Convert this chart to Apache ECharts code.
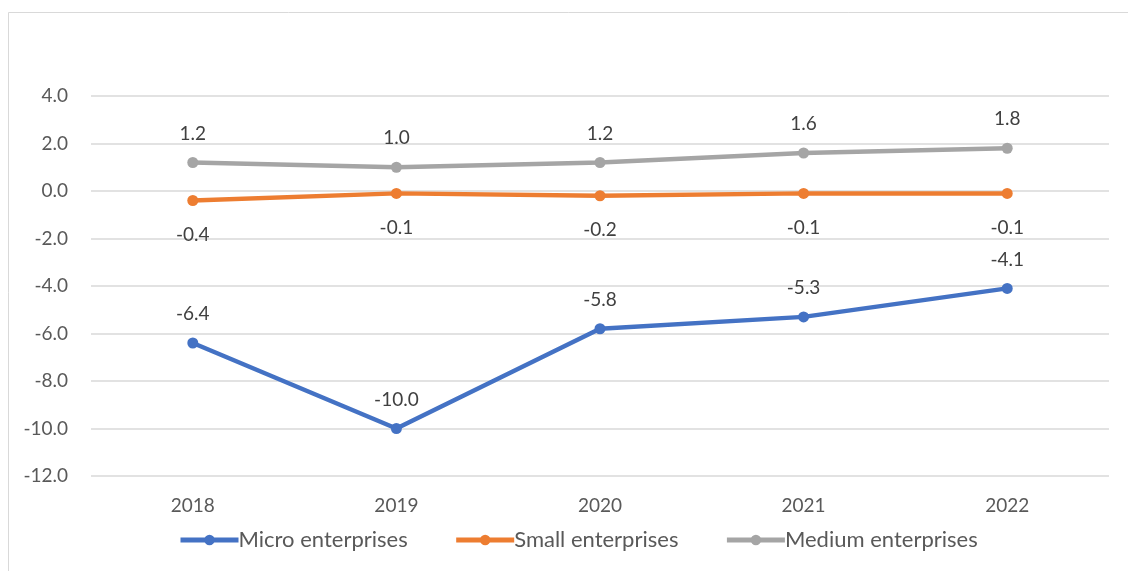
<!DOCTYPE html>
<html>
<head>
<meta charset="utf-8">
<script src="https://cdn.jsdelivr.net/npm/echarts@6/dist/echarts.min.js"></script>
<style>
html,body{margin:0;padding:0;background:#fff;}
#chart{width:1128px;height:571px;}
</style>
</head>
<body>
<div id="chart"></div>
<script>
// Year categories and per-segment values
const years = ['2018', '2019', '2020', '2021', '2022'];
const micro = [-6.4, -10.0, -5.8, -5.3, -4.1];
const small = [-0.4, -0.1, -0.2, -0.1, -0.1];
const medium = [1.2, 1.0, 1.2, 1.6, 1.8];
const seriesNames = ['Micro enterprises', 'Small enterprises', 'Medium enterprises'];

const FONT = 'Lato, "Open Sans", sans-serif';
const TEXT = '#404040';

function lineSeries(name, data, color, labelPos, dist) {
  return {
    name: name,
    type: 'line',
    data: data,
    symbol: 'circle',
    symbolSize: 11,
    lineStyle: { color: color, width: 4.5 },
    itemStyle: { color: color },
    label: {
      show: true,
      position: labelPos,
      distance: dist,
      color: TEXT,
      fontSize: 19,
      fontFamily: FONT,
      formatter: p => p.value.toFixed(1)
    },
    z: 3
  };
}

const chart = echarts.init(document.getElementById('chart'), null, { renderer: 'canvas' });
chart.setOption({
  backgroundColor: '#fff',
  animation: false,
  graphic: [{
    type: 'rect',
    shape: { x: 8.5, y: 12.5, width: 1200, height: 700 },
    style: { fill: 'none', stroke: '#d9d9d9', lineWidth: 1 },
    silent: true
  }],
  grid: { left: 91, right: 19, top: 96, bottom: 95 },
  legend: {
    bottom: 15,
    left: 173,
    itemWidth: 58,
    itemHeight: 13,
    itemGap: 46,
    lineStyle: { width: 5 },
    textStyle: { color: '#595959', fontSize: 22, fontFamily: FONT, padding: [0, 0, 0, -5] },
    data: seriesNames
  },
  xAxis: {
    type: 'category',
    data: years,
    boundaryGap: true,
    axisLine: { show: false },
    axisTick: { show: false },
    axisLabel: { color: '#595959', fontSize: 19, fontFamily: FONT, margin: 20 }
  },
  yAxis: {
    type: 'value',
    min: -12,
    max: 4,
    interval: 2,
    axisLine: { show: false },
    axisTick: { show: false },
    splitLine: { lineStyle: { color: '#d9d9d9', width: 1.5 } },
    axisLabel: {
      color: '#595959', fontSize: 19, fontFamily: FONT, margin: 23,
      formatter: v => v.toFixed(1)
    }
  },
  series: [
    lineSeries(seriesNames[0], micro, '#4472C4', 'top', 14),
    lineSeries(seriesNames[1], small, '#ED7D31', 'bottom', 19),
    lineSeries(seriesNames[2], medium, '#A5A5A5', 'top', 14)
  ]
});
</script>
</body>
</html>
